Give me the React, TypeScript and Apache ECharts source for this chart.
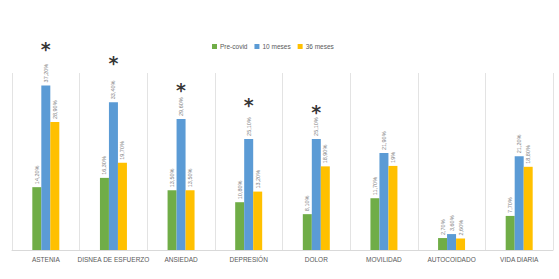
import React, { useEffect, useRef } from "react";
import * as echarts from "echarts";

const categories = ["ASTENIA", "DISNEA DE ESFUERZO", "ANSIEDAD", "DEPRESIÓN", "DOLOR", "MOVILIDAD", "AUTOCOIDADO", "VIDA DIARIA"];
const preCovid = [14.2, 16.3, 13.5, 10.8, 8.1, 11.7, 2.7, 7.7];
const meses10 = [37.2, 33.4, 29.6, 25.1, 25.1, 21.9, 3.6, 21.2];
const meses36 = [28.9, 19.7, 13.5, 13.2, 18.9, 19, 2.6, 18.8];
// significance markers (value-axis height of the asterisk), null = none
const asterisks: (number | null)[] = [46.5, 43.3, 37.2, 34.0, 32.4, null, null, null];

const fmt = (v: number) =>
  Number.isInteger(v) ? `${v}%` : v.toFixed(2).replace(".", ",") + "%";

export default function App() {
  const ref = useRef<HTMLDivElement>(null);
  useEffect(() => {
    const chart = echarts.init(ref.current!, undefined, { renderer: "svg" });
    const barLabel = {
      show: true,
      position: "top" as const,
      rotate: 90,
      align: "left" as const,
      verticalAlign: "middle" as const,
      distance: 3,
      fontSize: 5.5,
      color: "#7f7f7f",
      fontFamily: "Liberation Sans",
      formatter: (p: any) => fmt(p.value),
    };
    const mk = (name: string, data: number[], color: string) => ({
      name,
      type: "bar" as const,
      data,
      barWidth: 9,
      barGap: "0%",
      itemStyle: { color },
      label: barLabel,
    });
    chart.setOption({
      animation: false,
      legend: {
        top: 38,
        left: 207,
        itemWidth: 5,
        itemHeight: 5,
        itemGap: 7,
        icon: "rect",
        textStyle: { fontSize: 6.5, color: "#595959", fontFamily: "Liberation Sans", padding: [0, 0, 0, -2] },
        data: ["Pre-covid", "10 meses", "36 meses"],
      },
      grid: { left: 12, right: 6, top: 73, bottom: 29 },
      xAxis: {
        type: "category",
        data: categories,
        axisLine: { lineStyle: { color: "#d9d9d9" } },
        axisTick: { show: false },
        splitLine: { show: true, lineStyle: { color: "#e3e3e3", width: 1 } },
        axisLabel: {
          fontSize: 6.5,
          color: "#595959",
          fontFamily: "Liberation Sans",
          margin: 6,
          interval: 0,
        },
      },
      yAxis: {
        type: "value",
        min: 0,
        max: 40,
        show: false,
        splitLine: { show: false },
      },
      series: [
        mk("Pre-covid", preCovid, "#70AD47"),
        mk("10 meses", meses10, "#5B9BD5"),
        mk("36 meses", meses36, "#FFC000"),
        {
          name: "sig",
          type: "scatter",
          data: asterisks.map((v) => (v === null ? "-" : v)),
          symbolSize: 1,
          clip: false,
          itemStyle: { color: "rgba(0,0,0,0)" },
          silent: true,
          label: {
            show: true,
            position: "inside",
            formatter: "*",
            fontSize: 19,
            fontWeight: "bold",
            color: "#000",
            fontFamily: "DejaVu Sans",
            offset: [0, 5],
          },
        },
      ],
    });
    return () => chart.dispose();
  }, []);
  return (
    <div
      ref={ref}
      style={{ position: "fixed", left: 0, top: 0, width: 559, height: 279, background: "#fff" }}
    />
  );
}
